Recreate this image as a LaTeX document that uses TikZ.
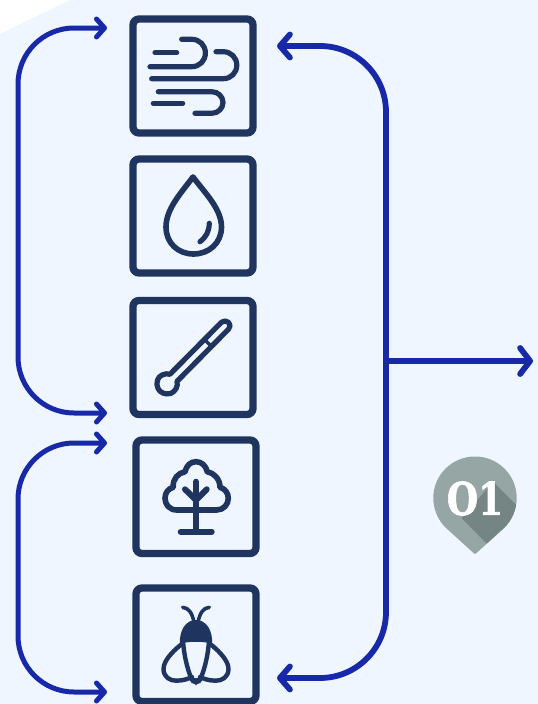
\documentclass[tikz,border=0pt]{standalone}
\usepackage{fontspec}
\usetikzlibrary{arrows.meta}
\newfontfamily\pinfont{DejaVu Serif}[BoldFont={DejaVu Serif Bold},BoldFeatures={FakeBold=1.5}]
\definecolor{paper}{HTML}{EFF6FF}
\definecolor{ink}{HTML}{1F3560}
\definecolor{flow}{HTML}{1728A8}
\definecolor{pinlight}{HTML}{95A6A5}
\definecolor{pindark}{HTML}{748583}
\tikzset{
  iconbox/.style={draw=ink,line width=7.3pt,rounded corners=6pt,minimum width=120pt,minimum height=114pt,inner sep=0pt},
  icon/.style={draw=ink,line width=5.2pt,line cap=round,line join=round},
  smallflow/.style={draw=flow,line width=5pt,rounded corners=56pt,
    {Straight Barb[length=8pt,width=18pt,round]}-{Straight Barb[length=8pt,width=18pt,round]}},
  bigflow/.style={draw=flow,line width=5.8pt,rounded corners=66pt,
    {Straight Barb[length=10pt,width=23pt,round]}-{Straight Barb[length=10pt,width=23pt,round]}},
  branchflow/.style={draw=flow,line width=5.8pt,-{Straight Barb[length=10pt,width=26pt,round]}}
}
\begin{document}
\begin{tikzpicture}[x=1pt,y=-1pt]
\useasboundingbox (0,0) rectangle (538,704);
\fill[white] (0,0) rectangle (538,704);
\fill[paper] (70,0) -- (538,0) -- (538,704) -- (0,704) -- (0,34) -- cycle;

% boxes
\node[iconbox] (wind) at (193,76) {};
\node[iconbox] (drop) at (193,216) {};
\node[iconbox] (therm) at (193,357.5) {};
\node[iconbox,minimum height=113.5pt] (tree) at (196,496.75) {};
\node[iconbox,minimum height=113.5pt] (bug) at (196,644.75) {};

% connectors
\coordinate (lta) at (107,28);
\coordinate (ltb) at (18,28);
\coordinate (lbb) at (18,413);
\coordinate (lba) at (107,413);
\coordinate (mta) at (107,443);
\coordinate (mtb) at (18,443);
\coordinate (mbb) at (18,692);
\coordinate (mba) at (107,692);
\coordinate (rta) at (277,46);
\coordinate (rtb) at (386,46);
\coordinate (rbb) at (386,678);
\coordinate (rba) at (277,678);
\coordinate (rj) at (386,361);
\coordinate (out) at (533,361);
\draw[smallflow] (lta) -- (ltb) -- (lbb) -- (lba);
\draw[smallflow] (mta) -- (mtb) -- (mbb) -- (mba);
\draw[bigflow] (rta) -- (rtb) -- (rbb) -- (rba);
\draw[branchflow] (rj) -- (out);

% wind
\draw[icon] (181.7,39.3) -- (191.7,39.3) .. controls (199.5,39.3) and (205.4,45.2) .. (205.4,53) .. controls (205.4,60.8) and (199.5,66.7) .. (191.7,66.7) -- (150,66.7);
\draw[icon] (155,52.7) -- (176.7,52.7);
\draw[icon] (216,51.7) -- (223.3,51.7) .. controls (231,51.7) and (236.8,57.7) .. (236.8,65.2) .. controls (236.8,72.7) and (231,78.7) .. (223.3,78.7) -- (151.7,78.7);
\draw[icon] (158.3,91.7) -- (211.7,91.7) .. controls (218,91.7) and (223,96.5) .. (223,102.5) .. controls (223,108.5) and (218,113.3) .. (211.7,113.3) -- (195,113.3);
\draw[icon] (153.3,103.3) -- (182.7,103.3);

% drop
\draw[icon,line width=5.6pt] (193,177) .. controls (181,193) and (166,209) .. (166,227) .. controls (166,243) and (178,254) .. (193.5,254) .. controls (209,254) and (221.5,243) .. (221.5,227) .. controls (221.5,209) and (205,193) .. (193,177) -- cycle;
\draw[icon] (209.3,223.3) .. controls (209,232) and (206,237) .. (200,241.7);

% thermometer
\draw[icon] (177,381.4) .. controls (178.3,386.4) and (175.5,391.5) .. (170.6,393.5) .. controls (165,395) and (160,392.5) .. (158,388.5) .. controls (155.5,383) and (157.5,377) .. (162,375) .. controls (165,373.4) and (167.5,373.6) .. (169.9,374.3) -- (221.5,322.2) .. controls (223.5,320.5) and (226.8,320.5) .. (228.7,322.4) .. controls (230.6,324.4) and (230.6,327.4) .. (228.5,329.2) -- cycle;
\draw[icon,line width=3.5pt,line cap=butt] (203.5,338.5) -- (210.5,345.5);

% tree
\draw[icon,line width=5.6pt] (176.7,510) .. controls (169.5,510) and (165,504.5) .. (165,498.3) .. controls (165,492.5) and (168.5,488.5) .. (173.3,487.3) .. controls (172.5,479) and (178,473) .. (185,471.7) .. controls (186.5,465.5) and (190.5,461.7) .. (196,461.7) .. controls (201.5,461.7) and (205.8,465.5) .. (207.3,471.7) .. controls (214,473) and (220,479) .. (220,487.3) .. controls (224.5,488.5) and (228.3,492.5) .. (228.3,498.3) .. controls (228.3,504.5) and (223.5,510) .. (216.7,510) -- cycle;
\draw[icon,line width=6pt] (196,481.7) -- (196,530);
\draw[icon,line width=6pt] (180.7,531.7) -- (211.7,531.7);
\draw[icon,line width=6pt] (185,489.3) -- (196,500) -- (206.7,489.3);

% bug
\fill[ink] (180,644) .. controls (179,630) and (186,620) .. (196,620) .. controls (206,620) and (213,630) .. (212,644) .. controls (205,641) and (187,641) .. (180,644) -- cycle;
\draw[icon,line width=3.6pt] (182.7,607.3) .. controls (189,608) and (192,613) .. (194,622);
\draw[icon,line width=3.6pt] (209.3,607.3) .. controls (203,608) and (200,613) .. (198,622);
\draw[icon,line width=4.4pt] (183,641) .. controls (184,655) and (187,668) .. (191.5,679) .. controls (192.5,683) and (199.5,683) .. (200.5,679) .. controls (205,668) and (208,655) .. (209,641);
\fill[ink] (191,678) -- (201,678) -- (196,685.5) -- cycle;
\draw[icon,line width=4.4pt] (180.5,645) .. controls (172,652) and (163.5,661) .. (163.5,669) .. controls (163.5,677) and (170,681) .. (176.7,680.7) .. controls (183,680.5) and (188,679) .. (192,677);
\draw[icon,line width=4.4pt] (211.5,645) .. controls (220,652) and (228.5,661) .. (228.5,669) .. controls (228.5,677) and (222,681) .. (215.3,680.7) .. controls (209,680.5) and (204,679) .. (200,677);

% pin
\begin{scope}
\clip (445.5,527.5) .. controls (437.7,519.7) and (433.3,509) .. (433.3,498) .. controls (433.3,475) and (452,456.5) .. (475,456.5) .. controls (498,456.5) and (516.7,475) .. (516.7,498) .. controls (516.7,509) and (512.3,519.7) .. (504.5,527.5) -- (476.5,553) .. controls (475.5,554) and (474.5,554) .. (473.5,553) -- cycle;
\fill[pinlight] (430,450) rectangle (520,560);
\fill[pindark] (493,481.7) -- (530,518.7) -- (530,560) -- (503,560) -- (461.7,518.3) -- cycle;
\end{scope}
\node[text=white,font={\pinfont\bfseries\fontsize{45pt}{45pt}\selectfont},xscale=.8,inner sep=0pt] (pinlabel) at (475,498.5) {O1};
\end{tikzpicture}
\end{document}
